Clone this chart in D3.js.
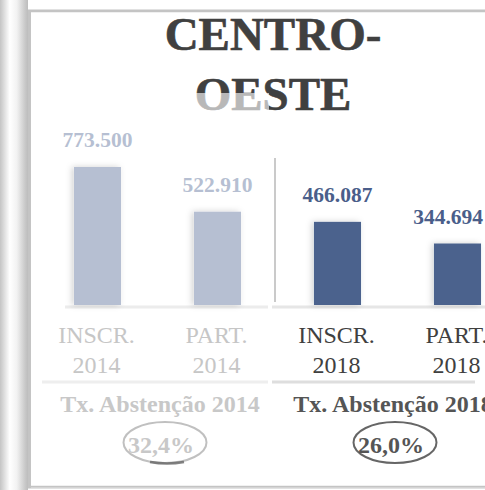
<!DOCTYPE html>
<html><head><meta charset="utf-8">
<script src="https://cdn.jsdelivr.net/npm/d3@7/dist/d3.min.js"></script>
<style>
html,body{margin:0;padding:0;background:#fff;overflow:hidden;}
svg{display:block;}
</style></head>
<body>
<svg id="chart" width="485" height="490"></svg>
<script>
// ---- data ----
const titleLines = ["CENTRO-", "OESTE"];
const catLine1 = ["INSCR.", "PART.", "INSCR.", "PART."];
const catLine2 = ["2014", "2014", "2018", "2018"];
const values = [773500, 522910, 466087, 344694];
const years = ["2014", "2014", "2018", "2018"];
const rateTitles = ["Tx. Abstenção 2014", "Tx. Abstenção 2018"];
const rateValues = ["32,4%", "26,0%"];

const ptBR = d3.formatLocale({decimal: ",", thousands: ".", grouping: [3], currency: ["R$", ""]});
const fmt = ptBR.format(",d");

const W = 485;
const svg = d3.select("#chart");
const serif = "'Liberation Serif','Times New Roman',serif";

// ---- frame / decorations ----
const defs = svg.append("defs");
const lg = defs.append("linearGradient").attr("id", "strip").attr("x1", 0).attr("x2", 1).attr("y1", 0).attr("y2", 0);
lg.append("stop").attr("offset", "0").attr("stop-color", "#c4c4c4");
lg.append("stop").attr("offset", "0.12").attr("stop-color", "#d8d8d8");
lg.append("stop").attr("offset", "0.35").attr("stop-color", "#ffffff");
lg.append("stop").attr("offset", "0.6").attr("stop-color", "#f2f2f2");
lg.append("stop").attr("offset", "0.9").attr("stop-color", "#c8c8c8");
lg.append("stop").attr("offset", "1").attr("stop-color", "#bdbdbd");
svg.append("rect").attr("x", 0).attr("y", 0).attr("width", 28).attr("height", 490).attr("fill", "url(#strip)");
svg.append("rect").attr("x", 29.5).attr("y", 11).attr("width", 470).attr("height", 476)
  .attr("fill", "#fff").attr("stroke", "#c4c4c4").attr("stroke-width", 3);
svg.append("rect").attr("x", 31).attr("y", 12.5).attr("width", 460).attr("height", 473).attr("fill", "#fff");
svg.append("line").attr("x1", 31).attr("x2", 485).attr("y1", 488).attr("y2", 488).attr("stroke", "#e4e4e4").attr("stroke-width", 1);

const filt = defs.append("filter").attr("id", "shadow").attr("x", "-30%").attr("y", "-10%").attr("width", "160%").attr("height", "120%");
filt.append("feDropShadow").attr("dx", -2).attr("dy", 0).attr("stdDeviation", 3).attr("flood-color", "#000").attr("flood-opacity", 0.18);

// ---- title ----
svg.append("text").attr("x", 273).attr("y", 50).attr("text-anchor", "middle")
  .attr("font-family", serif).attr("font-weight", "bold").attr("font-size", 47).attr("fill", "#404040")
  .attr("stroke", "#404040").attr("stroke-width", 0.6)
  .text(titleLines[0]);
defs.append("clipPath").attr("id", "oeTop").append("rect").attr("x", 0).attr("y", 0).attr("width", 485).attr("height", 93);
defs.append("clipPath").attr("id", "oeBot").append("rect").attr("x", 0).attr("y", 93).attr("width", 269).attr("height", 40);
defs.append("clipPath").attr("id", "oeBotR").append("rect").attr("x", 269).attr("y", 93).attr("width", 220).attr("height", 40);
const t2 = (clip, color) => svg.append("text").attr("x", 273).attr("y", 110).attr("text-anchor", "middle")
  .attr("font-family", serif).attr("font-weight", "bold").attr("font-size", 47).attr("fill", color)
  .attr("stroke", color).attr("stroke-width", 0.6)
  .attr("clip-path", `url(#${clip})`).text(titleLines[1]);
t2("oeTop", "#404040"); t2("oeBot", "#b8b8b8"); t2("oeBotR", "#404040");

// ---- scales ----
const x = d3.scaleBand().domain(d3.range(values.length)).range([37.5, 517.5]).paddingInner(0.608).paddingOuter(0.304);
const y = d3.scaleLinear().domain([0, d3.max(values)]).range([305, 167]);

const barColor = yr => yr === "2014" ? "#b6bfd2" : "#4c628d";
const labColor = yr => yr === "2014" ? "#b6bfd2" : "#4a5e8a";
const catColor = yr => yr === "2014" ? "#c6c6c6" : "#404040";

// baseline lines
svg.append("line").attr("x1", 65).attr("x2", 268).attr("y1", 307).attr("y2", 307).attr("stroke", "#ececec").attr("stroke-width", 3);
svg.append("line").attr("x1", 272).attr("x2", 485).attr("y1", 307).attr("y2", 307).attr("stroke", "#e6e6e6").attr("stroke-width", 3);
// separator
svg.append("line").attr("x1", 275).attr("x2", 275).attr("y1", 158).attr("y2", 302).attr("stroke", "#b8b8b8").attr("stroke-width", 1.5);

// bars
svg.selectAll("rect.bar").data(values).join("rect").attr("class", "bar")
  .attr("x", (d, i) => x(i)).attr("width", x.bandwidth())
  .attr("y", d => y(d)).attr("height", d => y(0) - y(d))
  .attr("fill", (d, i) => barColor(years[i])).attr("filter", "url(#shadow)");

// value labels (kept inside the right edge)
svg.selectAll("text.val").data(values).join("text").attr("class", "val")
  .attr("y", d => y(d) - 20)
  .attr("text-anchor", "middle").attr("font-family", serif).attr("font-weight", "bold").attr("font-size", 21.5)
  .attr("fill", (d, i) => labColor(years[i])).text(d => fmt(d))
  .attr("x", function(d, i) {
    const c = x(i) + x.bandwidth() / 2;
    const half = this.getComputedTextLength() / 2;
    return Math.min(c, W - 2 - half);
  });

// category labels
const cat = svg.selectAll("text.cat").data(values).join("text").attr("class", "cat")
  .attr("text-anchor", "middle").attr("font-family", serif).attr("font-size", 24)
  .attr("fill", (d, i) => catColor(years[i]));
cat.append("tspan").attr("x", (d, i) => x(i) + x.bandwidth() / 2 - 1).attr("y", 343).text((d, i) => catLine1[i]);
cat.append("tspan").attr("x", (d, i) => x(i) + x.bandwidth() / 2 - 1).attr("y", 373).text((d, i) => catLine2[i]);

// lines under categories
svg.append("line").attr("x1", 42).attr("x2", 268).attr("y1", 382).attr("y2", 382).attr("stroke", "#eeeeee").attr("stroke-width", 3);
svg.append("line").attr("x1", 272).attr("x2", 475).attr("y1", 382).attr("y2", 382).attr("stroke", "#dedede").attr("stroke-width", 3);

// rate blocks
const rateX = [160, 393];
const rateCol = ["#c8c8c8", "#555555"];
svg.selectAll("text.rt").data(rateTitles).join("text").attr("class", "rt")
  .attr("x", (d, i) => rateX[i]).attr("y", 412).attr("text-anchor", "middle")
  .attr("font-family", serif).attr("font-weight", "bold").attr("font-size", 24)
  .attr("fill", (d, i) => rateCol[i]).text(d => d);
svg.selectAll("ellipse.rv").data(rateValues).join("ellipse").attr("class", "rv")
  .attr("cx", (d, i) => [165, 395][i]).attr("cy", 442.5).attr("rx", 41.5).attr("ry", 20.5)
  .attr("fill", "none").attr("stroke", (d, i) => ["#c0c0c0", "#666666"][i]).attr("stroke-width", 2);
svg.append("path").attr("d", "M150,462 Q167,465 184,462")
  .attr("fill", "none").attr("stroke", "#666").attr("stroke-width", 2.5).attr("opacity", 0.8);
svg.selectAll("text.rvt").data(rateValues).join("text").attr("class", "rvt")
  .attr("x", (d, i) => [161, 391][i]).attr("y", 453).attr("text-anchor", "middle")
  .attr("font-family", serif).attr("font-weight", "bold").attr("font-size", 24)
  .attr("fill", (d, i) => rateCol[i]).text(d => d);
</script>
</body></html>
